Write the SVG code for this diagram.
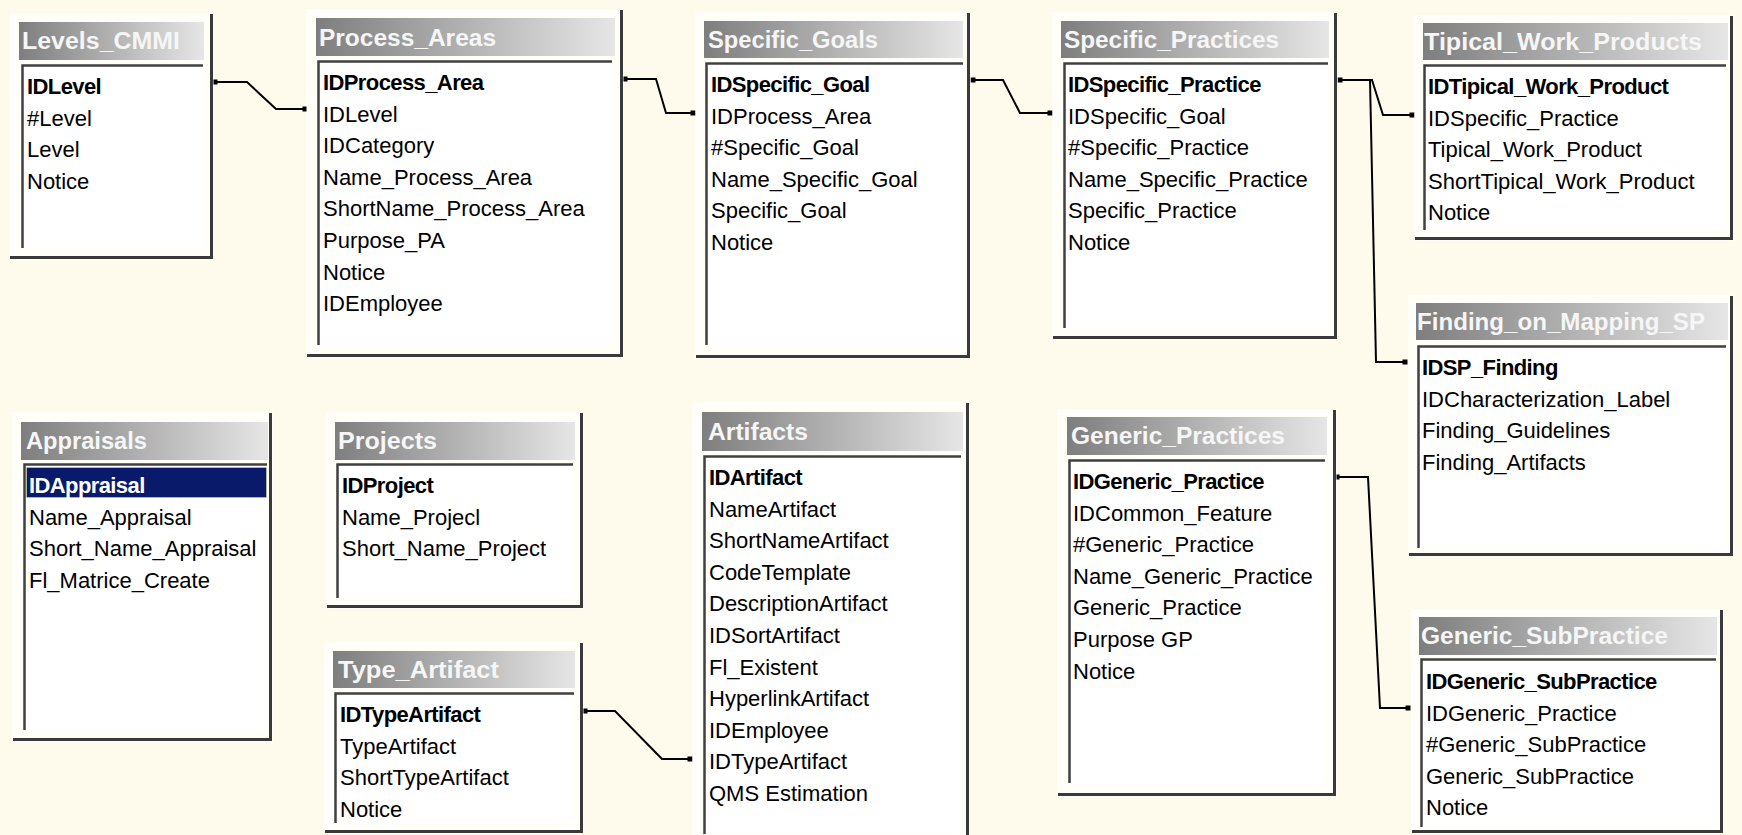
<svg xmlns="http://www.w3.org/2000/svg" width="1742" height="835" viewBox="0 0 1742 835">
  <style>
    .bg { fill: #fffbec; }
    .win { fill: #fffef8; stroke: #ffffff; stroke-width: 1; }
    .edge { fill: none; stroke: #3a3a3a; stroke-width: 3; }
    .edge2 { fill: none; stroke: #8a8a8a; stroke-width: 1; }
    .title { fill: url(#titleGrad); }
    .ttl { font-family: "Liberation Sans", Arial, sans-serif; font-weight: bold; font-size: 23px; fill: #f6f6f6; }
    .list { fill: #ffffff; }
    .sunk { fill: none; stroke: #404040; stroke-width: 2.5; }
    .sunk2 { fill: none; stroke: #9a9a9a; stroke-width: 1; }
    .fld { font-family: "Liberation Sans", Arial, sans-serif; font-size: 22px; fill: #000000; }
    .key { font-weight: bold; letter-spacing: -0.6px; }
    .sel { fill: #0a1a6a; stroke: #e8e070; stroke-width: 1; stroke-dasharray: 1 1; }
    .seltxt { fill: #ffffff; }
    .rel { fill: none; stroke: #000000; stroke-width: 2; stroke-linejoin: miter; }
  </style>
  <defs>
    <linearGradient id="titleGrad" x1="0" y1="0" x2="1" y2="0">
      <stop offset="0" stop-color="#7e7e7e"/>
      <stop offset="1" stop-color="#e6e6e6"/>
    </linearGradient>
    <marker id="dot" markerUnits="userSpaceOnUse" markerWidth="6" markerHeight="6" refX="3" refY="3" orient="auto">
      <rect x="0.5" y="0.5" width="5" height="5" fill="#000000"/>
    </marker>
  </defs>

  <rect class="bg" x="0" y="0" width="1742" height="835"/>

  <!-- relationship lines -->
  <g id="connectors">
    <polyline class="rel" marker-start="url(#dot)" marker-end="url(#dot)" points="215,82 247,82 276,109 305,109"/>
    <polyline class="rel" marker-start="url(#dot)" marker-end="url(#dot)" points="625,79 656,79 666,113 693,113"/>
    <polyline class="rel" marker-start="url(#dot)" marker-end="url(#dot)" points="973,80 1003,80 1020,113 1050,113"/>
    <polyline class="rel" marker-start="url(#dot)" marker-end="url(#dot)" points="1340,80 1372,80 1383,115 1412,115"/>
    <polyline class="rel" marker-end="url(#dot)" points="1340,80 1370,80 1376,362 1405,362"/>
    <polyline class="rel" marker-start="url(#dot)" marker-end="url(#dot)" points="585,711 615,711 662,759 690,759"/>
    <polyline class="rel" marker-start="url(#dot)" marker-end="url(#dot)" points="1337,477 1368,477 1380,708 1408,708"/>
  </g>

  <!-- Levels_CMMI -->
  <g id="tbl-levels-cmmi">
    <rect class="win" x="10" y="14" width="203" height="245"/>
    <path class="edge" d="M211.5 14 V257.5 H10"/>
    <rect class="title" x="19" y="22" width="185" height="38"/>
    <text class="ttl" x="22" y="49" textLength="158" lengthAdjust="spacingAndGlyphs">Levels_CMMI</text>
    <rect class="list" x="21" y="64" width="182" height="184"/>
    <path class="sunk" d="M22.5 248 V65.5 H203"/>
    <text class="fld key" x="27" y="94">IDLevel</text>
    <text class="fld" x="27" y="125.6">#Level</text>
    <text class="fld" x="27" y="157.2">Level</text>
    <text class="fld" x="27" y="188.8">Notice</text>
  </g>

  <!-- Process_Areas -->
  <g id="tbl-process-areas">
    <rect class="win" x="307" y="10" width="316" height="347"/>
    <path class="edge" d="M621.5 10 V355.5 H307"/>
    <rect class="title" x="316" y="18" width="299" height="38"/>
    <text class="ttl" x="319" y="46" textLength="177" lengthAdjust="spacingAndGlyphs">Process_Areas</text>
    <rect class="list" x="317" y="60" width="295" height="285"/>
    <path class="sunk" d="M318.5 345 V61.5 H612"/>
    <text class="fld key" x="323" y="90">IDProcess_Area</text>
    <text class="fld" x="323" y="121.6">IDLevel</text>
    <text class="fld" x="323" y="153.2">IDCategory</text>
    <text class="fld" x="323" y="184.8">Name_Process_Area</text>
    <text class="fld" x="323" y="216.4">ShortName_Process_Area</text>
    <text class="fld" x="323" y="248">Purpose_PA</text>
    <text class="fld" x="323" y="279.6">Notice</text>
    <text class="fld" x="323" y="311.2">IDEmployee</text>
  </g>

  <!-- Specific_Goals -->
  <g id="tbl-specific-goals">
    <rect class="win" x="696" y="13" width="274" height="345"/>
    <path class="edge" d="M968.5 13 V356.5 H696"/>
    <rect class="title" x="704" y="21" width="259" height="37"/>
    <text class="ttl" x="708" y="48" textLength="170" lengthAdjust="spacingAndGlyphs">Specific_Goals</text>
    <rect class="list" x="705" y="62" width="258" height="283"/>
    <path class="sunk" d="M706.5 345 V63.5 H963"/>
    <text class="fld key" x="711" y="92">IDSpecific_Goal</text>
    <text class="fld" x="711" y="123.6">IDProcess_Area</text>
    <text class="fld" x="711" y="155.2">#Specific_Goal</text>
    <text class="fld" x="711" y="186.8">Name_Specific_Goal</text>
    <text class="fld" x="711" y="218.4">Specific_Goal</text>
    <text class="fld" x="711" y="250">Notice</text>
  </g>

  <!-- Specific_Practices -->
  <g id="tbl-specific-practices">
    <rect class="win" x="1053" y="13" width="284" height="326"/>
    <path class="edge" d="M1335.5 13 V337.5 H1053"/>
    <rect class="title" x="1061" y="21" width="268" height="37"/>
    <text class="ttl" x="1064" y="48" textLength="215" lengthAdjust="spacingAndGlyphs">Specific_Practices</text>
    <rect class="list" x="1063" y="62" width="265" height="266"/>
    <path class="sunk" d="M1064.5 328 V63.5 H1328"/>
    <text class="fld key" x="1068" y="92">IDSpecific_Practice</text>
    <text class="fld" x="1068" y="123.6">IDSpecific_Goal</text>
    <text class="fld" x="1068" y="155.2">#Specific_Practice</text>
    <text class="fld" x="1068" y="186.8">Name_Specific_Practice</text>
    <text class="fld" x="1068" y="218.4">Specific_Practice</text>
    <text class="fld" x="1068" y="250">Notice</text>
  </g>

  <!-- Tipical_Work_Products -->
  <g id="tbl-tipical-work-products">
    <rect class="win" x="1415" y="16" width="318" height="224"/>
    <path class="edge" d="M1731.5 16 V238.5 H1415"/>
    <rect class="title" x="1423" y="23" width="305" height="37"/>
    <text class="ttl" x="1424" y="50" textLength="278" lengthAdjust="spacingAndGlyphs">Tipical_Work_Products</text>
    <rect class="list" x="1423" y="64" width="303" height="166"/>
    <path class="sunk" d="M1424.5 230 V65.5 H1726"/>
    <text class="fld key" x="1428" y="94">IDTipical_Work_Product</text>
    <text class="fld" x="1428" y="125.6">IDSpecific_Practice</text>
    <text class="fld" x="1428" y="157.2">Tipical_Work_Product</text>
    <text class="fld" x="1428" y="188.8">ShortTipical_Work_Product</text>
    <text class="fld" x="1428" y="220.4">Notice</text>
  </g>

  <!-- Finding_on_Mapping_SP -->
  <g id="tbl-finding-on-mapping-sp">
    <rect class="win" x="1409" y="296" width="324" height="260"/>
    <path class="edge" d="M1731.5 296 V554.5 H1409"/>
    <rect class="title" x="1416" y="303" width="312" height="37"/>
    <text class="ttl" x="1417" y="330" textLength="288" lengthAdjust="spacingAndGlyphs">Finding_on_Mapping_SP</text>
    <rect class="list" x="1417" y="345" width="309" height="203"/>
    <path class="sunk" d="M1418.5 548 V346.5 H1726"/>
    <text class="fld key" x="1422" y="375">IDSP_Finding</text>
    <text class="fld" x="1422" y="406.6">IDCharacterization_Label</text>
    <text class="fld" x="1422" y="438.2">Finding_Guidelines</text>
    <text class="fld" x="1422" y="469.8">Finding_Artifacts</text>
  </g>

  <!-- Appraisals -->
  <g id="tbl-appraisals">
    <rect class="win" x="13" y="413" width="259" height="328"/>
    <path class="edge" d="M270.5 413 V739.5 H13"/>
    <rect class="title" x="21" y="422" width="247" height="38"/>
    <text class="ttl" x="26" y="449" textLength="121" lengthAdjust="spacingAndGlyphs">Appraisals</text>
    <rect class="list" x="23" y="463" width="244" height="267"/>
    <path class="sunk" d="M24.5 730 V464.5 H267"/>
    <rect class="sel" x="26.5" y="467.5" width="240" height="30"/>
    <text class="fld key seltxt" x="29" y="493">IDAppraisal</text>
    <text class="fld" x="29" y="524.6">Name_Appraisal</text>
    <text class="fld" x="29" y="556.2">Short_Name_Appraisal</text>
    <text class="fld" x="29" y="587.8">Fl_Matrice_Create</text>
  </g>

  <!-- Projects -->
  <g id="tbl-projects">
    <rect class="win" x="327" y="413" width="256" height="195"/>
    <path class="edge" d="M581.5 413 V606.5 H327"/>
    <rect class="title" x="335" y="422" width="240" height="38"/>
    <text class="ttl" x="338" y="449" textLength="99" lengthAdjust="spacingAndGlyphs">Projects</text>
    <rect class="list" x="336" y="463" width="237" height="135"/>
    <path class="sunk" d="M337.5 598 V464.5 H573"/>
    <text class="fld key" x="342" y="493">IDProject</text>
    <text class="fld" x="342" y="524.6">Name_Projecl</text>
    <text class="fld" x="342" y="556.2">Short_Name_Project</text>
  </g>

  <!-- Type_Artifact -->
  <g id="tbl-type-artifact">
    <rect class="win" x="325" y="643" width="258" height="190"/>
    <path class="edge" d="M581.5 643 V831.5 H325"/>
    <rect class="title" x="333" y="651" width="242" height="37"/>
    <text class="ttl" x="338" y="678" textLength="161" lengthAdjust="spacingAndGlyphs">Type_Artifact</text>
    <rect class="list" x="334" y="692" width="240" height="131"/>
    <path class="sunk" d="M335.5 823 V693.5 H574"/>
    <text class="fld key" x="340" y="722">IDTypeArtifact</text>
    <text class="fld" x="340" y="753.6">TypeArtifact</text>
    <text class="fld" x="340" y="785.2">ShortTypeArtifact</text>
    <text class="fld" x="340" y="816.8">Notice</text>
  </g>

  <!-- Artifacts -->
  <g id="tbl-artifacts">
    <rect class="win" x="693" y="403" width="276" height="445"/>
    <path class="edge" d="M967.5 403 V846.5 H693"/>
    <rect class="title" x="702" y="412" width="261" height="39"/>
    <text class="ttl" x="708" y="440" textLength="100" lengthAdjust="spacingAndGlyphs">Artifacts</text>
    <rect class="list" x="703" y="455" width="258" height="379"/>
    <path class="sunk" d="M704.5 834 V456.5 H961"/>
    <text class="fld key" x="709" y="485">IDArtifact</text>
    <text class="fld" x="709" y="516.6">NameArtifact</text>
    <text class="fld" x="709" y="548.2">ShortNameArtifact</text>
    <text class="fld" x="709" y="579.8">CodeTemplate</text>
    <text class="fld" x="709" y="611.4">DescriptionArtifact</text>
    <text class="fld" x="709" y="643">IDSortArtifact</text>
    <text class="fld" x="709" y="674.6">Fl_Existent</text>
    <text class="fld" x="709" y="706.2">HyperlinkArtifact</text>
    <text class="fld" x="709" y="737.8">IDEmployee</text>
    <text class="fld" x="709" y="769.4">IDTypeArtifact</text>
    <text class="fld" x="709" y="801">QMS Estimation</text>
  </g>

  <!-- Generic_Practices -->
  <g id="tbl-generic-practices">
    <rect class="win" x="1058" y="410" width="278" height="386"/>
    <path class="edge" d="M1334.5 410 V794.5 H1058"/>
    <rect class="title" x="1067" y="417" width="260" height="38"/>
    <text class="ttl" x="1071" y="444" textLength="214" lengthAdjust="spacingAndGlyphs">Generic_Practices</text>
    <rect class="list" x="1068" y="459" width="257" height="324"/>
    <path class="sunk" d="M1069.5 783 V460.5 H1325"/>
    <text class="fld key" x="1073" y="489">IDGeneric_Practice</text>
    <text class="fld" x="1073" y="520.6">IDCommon_Feature</text>
    <text class="fld" x="1073" y="552.2">#Generic_Practice</text>
    <text class="fld" x="1073" y="583.8">Name_Generic_Practice</text>
    <text class="fld" x="1073" y="615.4">Generic_Practice</text>
    <text class="fld" x="1073" y="647">Purpose GP</text>
    <text class="fld" x="1073" y="678.6">Notice</text>
  </g>

  <!-- Generic_SubPractice -->
  <g id="tbl-generic-subpractice">
    <rect class="win" x="1412" y="610" width="311" height="223"/>
    <path class="edge" d="M1721.5 610 V831.5 H1412"/>
    <rect class="title" x="1419" y="617" width="298" height="38"/>
    <text class="ttl" x="1421" y="644" textLength="247" lengthAdjust="spacingAndGlyphs">Generic_SubPractice</text>
    <rect class="list" x="1420" y="658" width="296" height="169"/>
    <path class="sunk" d="M1421.5 827 V659.5 H1716"/>
    <text class="fld key" x="1426" y="689">IDGeneric_SubPractice</text>
    <text class="fld" x="1426" y="720.6">IDGeneric_Practice</text>
    <text class="fld" x="1426" y="752.2">#Generic_SubPractice</text>
    <text class="fld" x="1426" y="783.8">Generic_SubPractice</text>
    <text class="fld" x="1426" y="815.4">Notice</text>
  </g>
</svg>
